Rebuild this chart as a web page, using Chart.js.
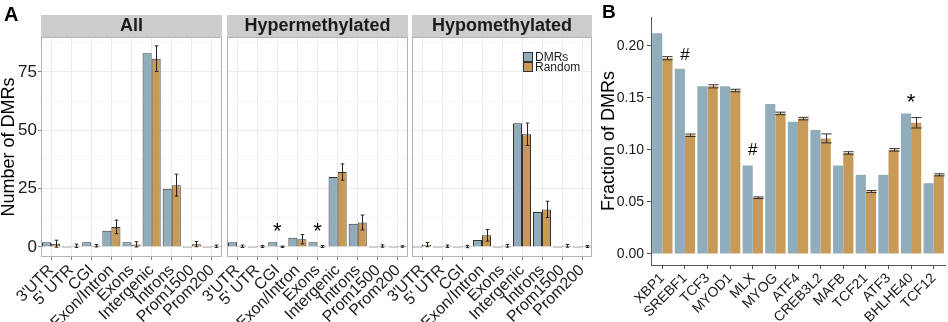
<!DOCTYPE html>
<html lang="en">
<head>
<meta charset="UTF-8" />
<title>DMRs by region and TF motif</title>
<script src="https://cdn.jsdelivr.net/npm/chart.js"></script>
<style>
  body { margin: 0; background: #fff; }
  #wrap { position: relative; width: 948px; height: 322px; font-family: 'Liberation Sans', Arial, sans-serif; }
  #wrap canvas { position: absolute; left: 0; top: 0; }
  .tag { position: absolute; font-weight: bold; color: #000; }
</style>
</head>
<body>
<div id="wrap">
  <canvas id="all" width="948" height="322"></canvas>
  <canvas id="hyper" width="948" height="322"></canvas>
  <canvas id="hypo" width="948" height="322"></canvas>
  <canvas id="tf" width="948" height="322"></canvas>
  <div class="tag" style="left:4px;top:3px;font-size:20px">A</div>
  <div class="tag" style="left:602px;top:1px;font-size:19px">B</div>
</div>
<script>
  // panel A: genomic regions
  const regions = ["3'UTR", "5' UTR", 'CGI', 'Exon/Intron', 'Exons', 'Intergenic', 'Introns', 'Prom1500', 'Prom200'];
  const allDMRs = [2, 0, 2, 7, 2, 83, 25, 0, 0];
  const allRandom = [1.4, 0.5, 0.5, 8.6, 1.1, 80.7, 26.5, 1.2, 0.3];
  const allRandomErr = [1.5, 0.7, 0.5, 2.9, 1.1, 5.5, 4.7, 1.1, 0.5];
  const hyperDMRs = [2, 0, 2, 4, 2, 30, 10, 0, 0];
  const hyperRandom = [0.3, 0.2, 0.1, 3.3, 0.2, 32.1, 10.5, 0.4, 0.2];
  const hyperRandomErr = [0.5, 0.4, 0.3, 2.0, 0.4, 3.5, 3.2, 0.5, 0.3];
  const hypoDMRs = [0, 0, 0, 3, 0, 53, 15, 0, 0];
  const hypoRandom = [1.0, 0.3, 0.2, 5.0, 0.5, 48.3, 16.1, 0.5, 0.2];
  const hypoRandomErr = [0.9, 0.5, 0.5, 2.5, 0.6, 4.8, 3.5, 0.6, 0.4];
  const countTicks = [0, 25, 50, 75];
  const countGrid = [0, 12.5, 25, 37.5, 50, 62.5, 75, 87.5];
  const hyperMarkCats = ['CGI', 'Exons'];
  const hyperMarkVals = [8.2, 8.2];
  const hyperMarkText = ['*', '*'];

  // panel B: TF motifs
  const tfs = ['XBP1', 'SREBF1', 'TCF3', 'MYOD1', 'MLX', 'MYOG', 'ATF4', 'CREB3L2', 'MAFB', 'TCF21', 'ATF3', 'BHLHE40', 'TCF12'];
  const tfDMRs = [0.212, 0.178, 0.161, 0.161, 0.085, 0.144, 0.127, 0.119, 0.085, 0.076, 0.076, 0.135, 0.068];
  const tfRandom = [0.188, 0.114, 0.161, 0.157, 0.054, 0.135, 0.130, 0.111, 0.097, 0.060, 0.100, 0.126, 0.076];
  const tfRandomErr = [0.0015, 0.0012, 0.0015, 0.0012, 0.0008, 0.0012, 0.0012, 0.0043, 0.0012, 0.001, 0.0012, 0.005, 0.001];
  const fracTicks = [0, 0.05, 0.10, 0.15, 0.20];
  const tfMarkCats = ['SREBF1', 'MLX', 'BHLHE40'];
  const tfMarkVals = [0.191, 0.100, 0.149];
  const tfMarkText = ['#', '#', '*'];

  const blue = '#91adbb', orange = '#c89a57';
  const font = "'Liberation Sans', Arial, sans-serif";
  Chart.defaults.font.family = font;
  Chart.defaults.color = '#1a1a1a';

  // strip, frame, error bars, star/hash marks and legend
  const extras = {
    id: 'extras',
    beforeDraw(chart, args, o) {
      const a = chart.chartArea, ctx = chart.ctx;
      if (!o.strip) return;
      ctx.save();
      ctx.fillStyle = '#cccccc';
      ctx.fillRect(a.left, a.top - 22, a.right - a.left, 22);
      ctx.fillStyle = '#1a1a1a';
      ctx.font = 'bold 18px ' + font;
      ctx.textAlign = 'center';
      ctx.textBaseline = 'middle';
      ctx.fillText(o.strip, (a.left + a.right) / 2, a.top - 10.5);
      ctx.restore();
    },
    afterDatasetsDraw(chart, args, o) {
      const ctx = chart.ctx, y = chart.scales.y;
      ctx.save();
      ctx.strokeStyle = o.errColor || '#222';
      ctx.lineWidth = 1;
      chart.data.datasets.forEach((ds, i) => {
        if (!ds.errors) return;
        chart.getDatasetMeta(i).data.forEach((el, j) => {
          const v = ds.data[j], e = ds.errors[j];
          const hi = y.getPixelForValue(v + e), lo = y.getPixelForValue(v - e);
          const half = el.width * o.cap / 2, x = Math.round(el.x) + 0.5;
          ctx.beginPath();
          ctx.moveTo(x, hi); ctx.lineTo(x, lo);
          ctx.moveTo(x - half, hi); ctx.lineTo(x + half, hi);
          ctx.moveTo(x - half, lo); ctx.lineTo(x + half, lo);
          ctx.stroke();
        });
      });
      ctx.restore();
    },
    afterDraw(chart, args, o) {
      const a = chart.chartArea, ctx = chart.ctx;
      ctx.save();
      if (o.frame) {
        ctx.strokeStyle = '#b3b3b3';
        ctx.lineWidth = 1;
        ctx.strokeRect(a.left + 0.5, a.top + 0.5, a.right - a.left - 1, a.bottom - a.top - 1);
      }
      if (o.marks) {
        const labels = chart.data.labels;
        ctx.fillStyle = '#000';
        ctx.textAlign = 'center';
        ctx.textBaseline = 'middle';
        o.marks.cats.forEach((c, k) => {
          const t = o.marks.text[k];
          ctx.font = (t === '*' ? '22px ' : '17px ') + font;
          const x = chart.scales.x.getPixelForValue(labels.indexOf(c));
          const yy = chart.scales.y.getPixelForValue(o.marks.vals[k]);
          ctx.fillText(t, x, yy + (t === '*' ? 4 : 0));
        });
      }
      if (o.legend) {
        let ly = a.top + 15;
        const lx = a.right - 69;
        ctx.font = '12px ' + font;
        ctx.textAlign = 'left';
        ctx.textBaseline = 'middle';
        chart.data.datasets.forEach(ds => {
          ctx.fillStyle = ds.backgroundColor;
          ctx.fillRect(lx, ly, 10, 10);
          ctx.strokeStyle = '#333';
          ctx.strokeRect(lx + 0.5, ly + 0.5, 9, 9);
          ctx.fillStyle = '#1a1a1a';
          ctx.fillText(ds.label, lx + 12, ly + 5.5);
          ly += 10;
        });
      }
      ctx.restore();
    }
  };

  function facet(id, title, dmrs, random, err, left, right, first, more) {
    return new Chart(document.getElementById(id), {
      type: 'bar',
      data: {
        labels: regions,
        datasets: [
          { label: 'DMRs', data: dmrs, backgroundColor: blue, borderColor: '#333', borderWidth: 1,
            categoryPercentage: 0.9, barPercentage: 1, minBarLength: 1 },
          { label: 'Random', data: random, errors: err, backgroundColor: orange, borderColor: '#333', borderWidth: 1,
            categoryPercentage: 0.9, barPercentage: 1, minBarLength: 1 }
        ]
      },
      options: {
        responsive: false, animation: false,
        layout: { padding: { left: left, right: 948 - right, top: 37, bottom: 0 } },
        scales: {
          x: {
            afterFit: s => { s.height = 65; },
            ticks: { font: { size: 16 }, minRotation: 45, maxRotation: 45, padding: 1, autoSkip: false, color: '#1a1a1a' },
            grid: { offset: false, color: '#ebebeb', tickColor: '#7f7f7f', tickLength: 3 },
            border: { display: false }
          },
          y: {
            min: -4.3, max: 90,
            afterBuildTicks: s => { s.ticks = countGrid.map(v => ({ value: v })); },
            afterFit: s => { s.width = first ? 41 : 0; },
            ticks: { display: first, font: { size: 17 }, padding: 1, color: '#1a1a1a',
              callback: v => countTicks.includes(v) ? v : '' },
            grid: {
              color: c => countTicks.includes(c.tick && c.tick.value) ? '#ebebeb' : '#f6f6f6',
              tickColor: c => countTicks.includes(c.tick && c.tick.value) ? '#7f7f7f' : 'rgba(0,0,0,0)',
              tickLength: 3, drawTicks: first
            },
            border: { display: false },
            title: { display: first, text: 'Number of DMRs', font: { size: 18, lineHeight: 1 }, padding: 0, color: '#000' }
          }
        },
        plugins: {
          legend: { display: false },
          tooltip: { enabled: false },
          extras: Object.assign({ strip: title, frame: true, cap: 0.4 }, more || {})
        }
      },
      plugins: [extras]
    });
  }

  facet('all', 'All', allDMRs, allRandom, allRandomErr, 0, 222, true);
  facet('hyper', 'Hypermethylated', hyperDMRs, hyperRandom, hyperRandomErr, 227, 408, false,
    { marks: { cats: hyperMarkCats, vals: hyperMarkVals, text: hyperMarkText } });
  facet('hypo', 'Hypomethylated', hypoDMRs, hypoRandom, hypoRandomErr, 412, 592, false, { legend: true });

  new Chart(document.getElementById('tf'), {
    type: 'bar',
    data: {
      labels: tfs,
      datasets: [
        { label: 'DMRs', data: tfDMRs, backgroundColor: blue, categoryPercentage: 0.9, barPercentage: 1 },
        { label: 'Random', data: tfRandom, errors: tfRandomErr, backgroundColor: orange, categoryPercentage: 0.9, barPercentage: 1 }
      ]
    },
    options: {
      responsive: false, animation: false,
      layout: { padding: { left: 600, right: 3, top: 17, bottom: 0 } },
      scales: {
        x: {
          afterFit: s => { s.height = 57; },
          ticks: { font: { size: 14 }, minRotation: 45, maxRotation: 45, padding: 1, autoSkip: false, color: '#1a1a1a' },
          grid: { offset: false, drawOnChartArea: false, tickColor: '#555', tickLength: 4 },
          border: { color: '#555', width: 1 }
        },
        y: {
          min: -0.0106, max: 0.2276,
          afterBuildTicks: s => { s.ticks = fracTicks.map(v => ({ value: v })); },
          afterFit: s => { s.width = 51; },
          ticks: { font: { size: 14 }, padding: 3, color: '#1a1a1a', callback: v => v.toFixed(2) },
          grid: { drawOnChartArea: false, tickColor: '#555', tickLength: 4 },
          border: { color: '#555', width: 1 },
          title: { display: true, text: 'Fraction of DMRs', font: { size: 18, lineHeight: 1 }, padding: 0, color: '#000' }
        }
      },
      plugins: {
        legend: { display: false },
        tooltip: { enabled: false },
        extras: { cap: 1, errColor: '#333', marks: { cats: tfMarkCats, vals: tfMarkVals, text: tfMarkText } }
      }
    },
    plugins: [extras]
  });
</script>
</body>
</html>
